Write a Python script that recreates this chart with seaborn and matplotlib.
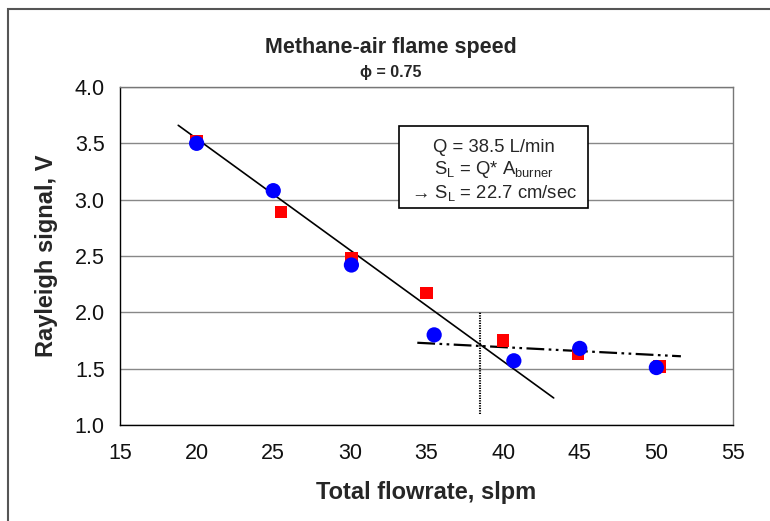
import pandas as pd
import seaborn as sns
import matplotlib.pyplot as plt
from matplotlib.ticker import MultipleLocator
from matplotlib.patches import Rectangle

flow_blue = [20.0, 25.0, 30.1, 35.5, 40.7, 45.0, 50.0]
signal_blue = [3.50, 3.08, 2.42, 1.80, 1.57, 1.68, 1.51]
flow_red = [20.0, 25.5, 30.1, 35.0, 40.0, 44.9, 50.2]
signal_red = [3.52, 2.89, 2.48, 2.17, 1.75, 1.63, 1.52]

# trend lines drawn on the chart
fit_steep_x = [18.8, 43.3]
fit_steep_y = [3.66, 1.24]
fit_flat_x = [34.4, 51.6]
fit_flat_y = [1.73, 1.61]
q_cross = 38.5
q_line_y = [1.1, 2.0]

blue_df = pd.DataFrame({'flow': flow_blue, 'signal': signal_blue})
red_df = pd.DataFrame({'flow': flow_red, 'signal': signal_red})

sns.set_style("white")
plt.rcParams['font.family'] = ['Liberation Sans', 'DejaVu Sans']

fig = plt.figure(figsize=(7.7, 5.21), dpi=100)
ax = fig.add_axes([120 / 770, 1 - 425 / 521, 613 / 770, 338 / 521])

# outer frame of the chart area (cut off on the right and bottom)
fig.patches.append(Rectangle((8 / 770, -0.1), 1.2, 1 - 9 / 521 + 0.1, transform=fig.transFigure,
                             fill=False, edgecolor='#555555', linewidth=1.5))

sns.scatterplot(x='flow', y='signal', data=red_df, marker='s', color='#ff0000', s=80,
                edgecolor='none', ax=ax, zorder=3)
sns.scatterplot(x='flow', y='signal', data=blue_df, marker='o', color='#0000ff', s=120,
                edgecolor='none', ax=ax, zorder=4)

ax.plot(fit_steep_x, fit_steep_y, color='black', linewidth=1.2, zorder=2)
ax.plot(fit_flat_x, fit_flat_y, color='black', linewidth=1.6, linestyle=(0, (8, 2, 1.2, 2, 1.2, 2)), zorder=2)
ax.plot([q_cross, q_cross], q_line_y, color='black', linewidth=1.5, linestyle=(0, (0.6, 0.6)), zorder=2)

ax.set_xlim(15, 55)
ax.set_ylim(1.0, 4.0)
ax.xaxis.set_major_locator(MultipleLocator(5))
ax.xaxis.set_minor_locator(MultipleLocator(1))
ax.yaxis.set_major_locator(MultipleLocator(0.5))
ax.yaxis.set_minor_locator(MultipleLocator(0.1))
ax.xaxis.set_major_formatter(plt.FuncFormatter(lambda v, p: f"{v:.0f}"))
ax.yaxis.set_major_formatter(plt.FuncFormatter(lambda v, p: f"{v:.1f}"))
ax.yaxis.grid(True, which='major', color='#888888', linewidth=1.0)
ax.tick_params(axis='both', which='major', direction='out', length=7, width=1, labelsize=15.5,
               color='black', pad=6, labelcolor='#111111')
ax.tick_params(axis='both', which='minor', direction='out', length=4, width=1, color='black')
ax.tick_params(axis='y', which='major', direction='inout', length=10)

for side in ['left', 'bottom']:
    ax.spines[side].set_color('black')
    ax.spines[side].set_linewidth(1.0)
for side in ['right', 'top']:
    ax.spines[side].set_color('#777777')
    ax.spines[side].set_linewidth(1.0)

ax.set_xlabel("Total flowrate, slpm", fontsize=17, fontweight='bold', labelpad=12)
ax.set_ylabel("Rayleigh signal, V", fontsize=17, fontweight='bold', labelpad=12)

fig.text(391 / 770, 1 - 48 / 521, "Methane-air flame speed", ha='center', va='center',
         fontsize=15.5, fontweight='bold')
fig.text(391 / 770, 1 - 72 / 521, "ϕ = 0.75", ha='center', va='center',
         fontsize=11.5, fontweight='bold')

# annotation box
fig.patches.append(Rectangle((399 / 770, 1 - 208 / 521), 189 / 770, 82 / 521, transform=fig.transFigure,
                             facecolor='white', edgecolor='black', linewidth=1.2, zorder=5))
fig.text(494 / 770, 1 - 148 / 521, "Q = 38.5 L/min", ha='center', va='center', fontsize=13.3, zorder=6)
fig.text(494 / 770, 1 - 170 / 521, r"S$_{\mathregular{L}}$ = Q* A$_{\mathregular{burner}}$",
         ha='center', va='center', fontsize=13.3, zorder=6)
fig.text(494 / 770, 1 - 193 / 521, r"→ S$_{\mathregular{L}}$ = 22.7 cm/sec",
         ha='center', va='center', fontsize=13.3, zorder=6)

plt.savefig("out.png", dpi=100)
